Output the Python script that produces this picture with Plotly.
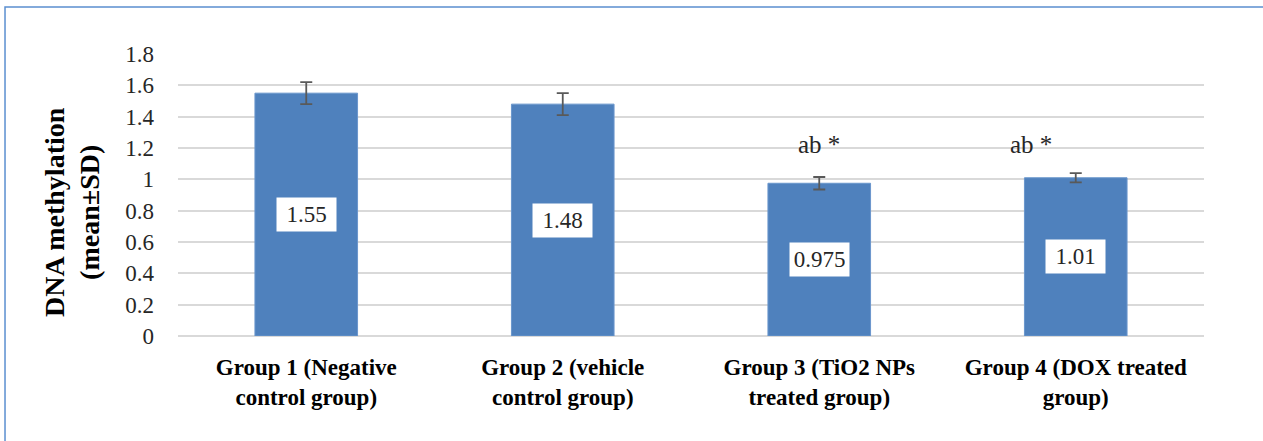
import plotly.graph_objects as go

categories = ["Group 1 (Negative<br>control group)", "Group 2 (vehicle<br>control group)",
              "Group 3 (TiO2 NPs<br>treated group)", "Group 4 (DOX treated<br>group)"]
values = [1.55, 1.48, 0.975, 1.01]
sd = [0.07, 0.07, 0.04, 0.03]
value_labels = ["1.55", "1.48", "0.975", "1.01"]
sig_labels = ["", "", "ab *", "ab *"]
y_ticks = [0, 0.2, 0.4, 0.6, 0.8, 1, 1.2, 1.4, 1.6, 1.8]
y_title_lines = ["DNA methylation", "(mean±SD)"]

SERIF = "Liberation Serif"

fig = go.Figure()
fig.add_trace(go.Bar(
    x=categories, y=values,
    marker=dict(color="#4F81BD", line=dict(color="#6A96CC", width=1)),
    error_y=dict(type="data", array=sd, visible=True, color="#595959", thickness=1.8, width=6),
    hoverinfo="skip",
))

annotations = []
for c, v, lab in zip(categories, values, value_labels):
    annotations.append(dict(x=c, y=v / 2, xref="x", yref="y", text=lab, showarrow=False,
                            bgcolor="white", font=dict(family=SERIF, size=23, color="#262626"),
                            borderpad=4, width=51))
for i, (c, v, s) in enumerate(zip(categories, values, sig_labels)):
    if s:
        annotations.append(dict(x=c, y=1.22, xref="x", yref="y", text=s, showarrow=False,
                                xshift=0 if i == 2 else -45,
                                font=dict(family=SERIF, size=25, color="#262626")))
for xp, line in zip([-0.1199, -0.0858], y_title_lines):
    annotations.append(dict(x=xp, y=0.44, xref="paper", yref="paper", xanchor="center",
                            yanchor="middle",
                            text=f"<b>{line}</b>", showarrow=False, textangle=-90,
                            font=dict(family=SERIF, size=28, color="black")))

fig.update_layout(
    width=1263, height=441,
    margin=dict(l=178, r=59, t=54, b=105),
    paper_bgcolor="white", plot_bgcolor="white",
    bargap=0.6, showlegend=False,
    annotations=annotations,
    xaxis=dict(showgrid=False, showline=False, ticks="", ticklabelstandoff=15,
               tickfont=dict(family=SERIF, size=23, color="black", weight="bold")),
    yaxis=dict(range=[0, 1.8], tickvals=y_ticks, ticktext=[f"{t:g}" for t in y_ticks],
               showgrid=True, gridcolor="#D9D9D9", gridwidth=1.5,
               zeroline=True, zerolinecolor="#D9D9D9", zerolinewidth=1.5,
               showline=False, ticks="", ticklabelstandoff=23,
               tickfont=dict(family=SERIF, size=23, color="#262626")),
    shapes=[dict(type="rect", xref="paper", yref="paper",
                 x0=-0.1686, x1=1.3, y0=-0.6, y1=1.1667,
                 line=dict(color="#5B8FD0", width=1.5), fillcolor="rgba(0,0,0,0)", layer="below")],
)

fig.write_html("out.html", config={"displayModeBar": False},
               post_script="document.body.style.margin='0';")
